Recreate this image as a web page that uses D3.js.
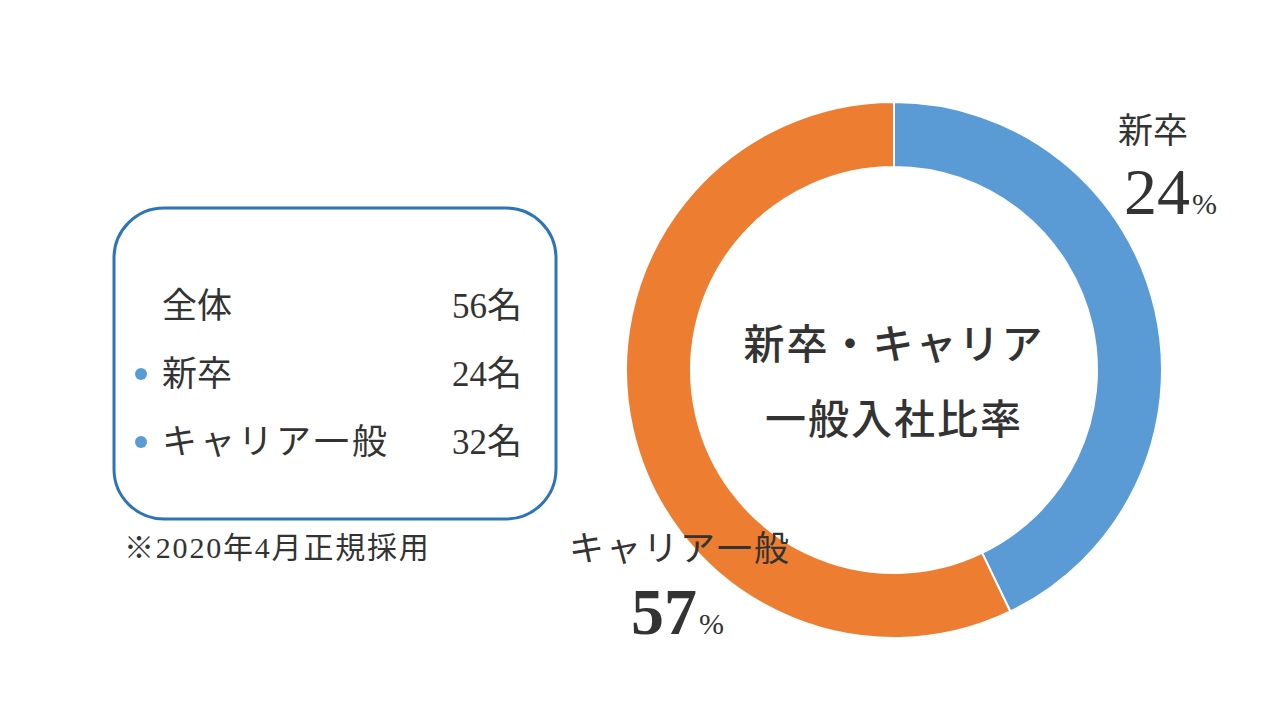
<!DOCTYPE html>
<html><head><meta charset="utf-8">
<script src="https://cdn.jsdelivr.net/npm/d3@7"></script>
<style>
html,body{margin:0;padding:0;background:#fff;}
svg text{font-family:"Liberation Serif","Noto Sans CJK JP",serif;fill:#333;}
</style></head>
<body>
<svg id="c" width="1280" height="720"></svg>
<script>
const categories = ["新卒", "キャリア一般"];
const values = [24, 32];
const pctLabels = ["24", "57"];
const colors = ["#5B9BD5", "#ED7D31"];
const bulletColor = "#5B9BD5";
const totalLabel = "全体";
const totalValue = 56;
const unit = "名";
const centerTitle = ["新卒・キャリア", "一般入社比率"];
const footnote = "※2020年4月正規採用";

const svg = d3.select("#c");
const cx = 894, cy = 370, rOuter = 268, rInner = 203;

const pie = d3.pie().sort(null).value(d => d)(values);
const arc = d3.arc().innerRadius(rInner).outerRadius(rOuter);
const g = svg.append("g").attr("transform", `translate(${cx},${cy})`);
g.selectAll("path").data(pie).join("path")
  .attr("d", arc).attr("fill", (d, i) => colors[i])
  .attr("stroke", "#fff").attr("stroke-width", 2);

// center title
g.selectAll("text.ct").data(centerTitle).join("text").attr("class", "ct")
  .attr("x", 0).attr("y", (d, i) => -11 + i * 75)
  .attr("text-anchor", "middle").attr("font-size", 41).attr("font-weight", 500)
  .attr("letter-spacing", 2).text(d => d);

// outside labels
const labelPos = [
  {cx: 1153, cy: 143, px: 1190, py: 214, w: 400},
  {cx: 680, cy: 561, px: 697, py: 634, w: 700}
];
categories.forEach((c, i) => {
  const p = labelPos[i];
  svg.append("text").attr("x", p.cx).attr("y", p.cy).attr("text-anchor", "middle")
    .attr("font-size", 35).attr("letter-spacing", i === 1 ? 2 : 0).text(c);
  svg.append("text").attr("x", p.px).attr("y", p.py).attr("text-anchor", "end")
    .attr("font-size", 66).attr("font-weight", p.w).text(pctLabels[i]);
  svg.append("text").attr("x", p.px + 2).attr("y", p.py).attr("font-size", 30).text("%");
});

// legend box
svg.append("rect").attr("x", 114).attr("y", 208).attr("width", 442).attr("height", 311)
  .attr("rx", 50).attr("ry", 50).attr("fill", "#fff")
  .attr("stroke", "#2E75B6").attr("stroke-width", 3);

const rows = [{name: totalLabel, v: totalValue, dot: false}]
  .concat(categories.map((c, i) => ({name: c, v: values[i], dot: true})));
rows.forEach((r, i) => {
  const y = 318 + i * 68;
  if (r.dot) svg.append("circle").attr("cx", 141).attr("cy", y - 12).attr("r", 6).attr("fill", bulletColor);
  svg.append("text").attr("x", 162).attr("y", y).attr("font-size", 35)
    .attr("letter-spacing", r.name.length > 3 ? 3 : 0).text(r.name);
  svg.append("text").attr("x", 522).attr("y", y).attr("text-anchor", "end")
    .attr("font-size", 35).text(r.v + unit);
});

svg.append("text").attr("x", 124).attr("y", 558).attr("font-size", 30)
  .attr("letter-spacing", 1.8).text(footnote);
</script>
</body></html>
